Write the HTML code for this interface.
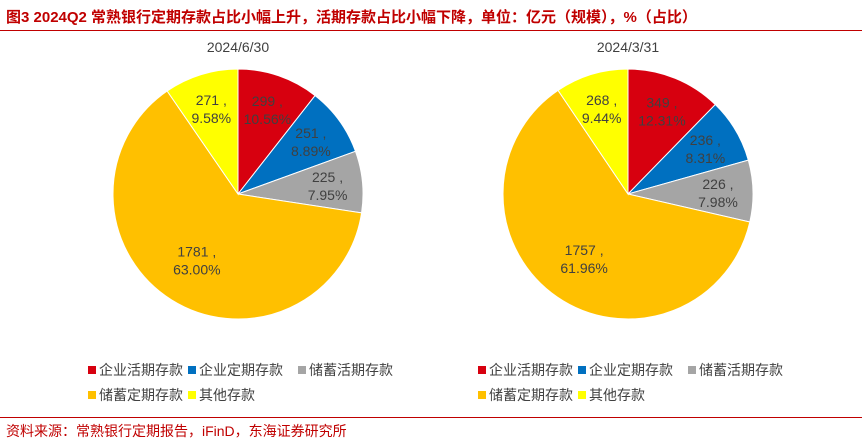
<!DOCTYPE html>
<html><head><meta charset="utf-8">
<style>
body{margin:0;background:#fff;font-family:"Liberation Sans","Noto Sans CJK SC",sans-serif;}
#wrap{position:relative;width:862px;height:447px;overflow:hidden;}
.title{position:absolute;left:6px;top:6px;font-size:15px;font-weight:bold;color:#c00000;white-space:nowrap;}
.src{position:absolute;left:6px;top:421px;font-size:14px;color:#c00000;}
.hl{position:absolute;left:0;width:862px;height:1px;background:#c00000;}
</style></head><body>
<div id="wrap">
<div class="title">图3  2024Q2 常熟银行定期存款占比小幅上升，活期存款占比小幅下降，单位：亿元（规模），%（占比）</div>
<div class="hl" style="top:30px"></div>
<div class="hl" style="top:417px"></div>
<div class="src">资料来源：常熟银行定期报告，iFinD，东海证券研究所</div>
<svg id="svg" width="862" height="447" style="position:absolute;left:0;top:0"></svg>
</div>
<script>
const categories=["企业活期存款","企业定期存款","储蓄活期存款","储蓄定期存款","其他存款"];
const colors=["#d7000f","#0070c0","#a5a5a5","#ffc000","#ffff00"];
const dates=["2024/6/30","2024/3/31"];
const valuesJun=[299,251,225,1781,271];
const sharesJun=["10.56%","8.89%","7.95%","63.00%","9.58%"];
const valuesMar=[349,236,226,1757,268];
const sharesMar=["12.31%","8.31%","7.98%","61.96%","9.44%"];
const svg=document.getElementById('svg');
const NS="http://www.w3.org/2000/svg";
function mk(t,a){const e=document.createElementNS(NS,t);for(const k in a)e.setAttribute(k,a[k]);svg.appendChild(e);return e;}
function pie(cx,cy,r,vals,shares,date,lx){
  const tot=vals.reduce((a,b)=>a+b,0);
  const t=mk('text',{x:cx,y:52,'text-anchor':'middle','font-size':14,fill:'#404040'});
  t.textContent=date;
  
  
  let a=0;
  vals.forEach((v,i)=>{
    const a0=a/tot*2*Math.PI, a1=(a+v)/tot*2*Math.PI; a+=v;
    const x0=cx+r*Math.sin(a0),y0=cy-r*Math.cos(a0),x1=cx+r*Math.sin(a1),y1=cy-r*Math.cos(a1);
    const p=mk('path',{d:`M${cx},${cy}L${x0},${y0}A${r},${r} 0 ${a1-a0>Math.PI?1:0} 1 ${x1},${y1}Z`,fill:colors[i],stroke:'#fff','stroke-width':1});
    
    
    const m=(a0+a1)/2, lr=r*(i===3?0.62:0.72);
    const tx=cx+lr*Math.sin(m), ty=cy-lr*Math.cos(m);
    const l=mk('text',{x:tx,y:ty-3,'text-anchor':'middle','font-size':14,fill:'#404040'});
    l.textContent=vals[i]+' ,';
    
    
    const l2=mk('text',{x:tx,y:ty+15,'text-anchor':'middle','font-size':14,fill:'#404040'});
    l2.textContent=shares[i];
    
    
  });
  const pos=[[0,0],[100,0],[210,0],[0,25],[100,25]];
  categories.forEach((c,i)=>{
    const x=lx+pos[i][0], y=375+pos[i][1];
    const s=mk('rect',{x:x,y:y-9,width:8,height:8,fill:colors[i]});
    
    
    const tt=mk('text',{x:x+11,y:y,'font-size':14,fill:'#404040'});
    tt.textContent=c;
    
    
  });
}
pie(238,194,125,valuesJun,sharesJun,dates[0],88);
pie(628,194,125,valuesMar,sharesMar,dates[1],478);
</script>
</body></html>
